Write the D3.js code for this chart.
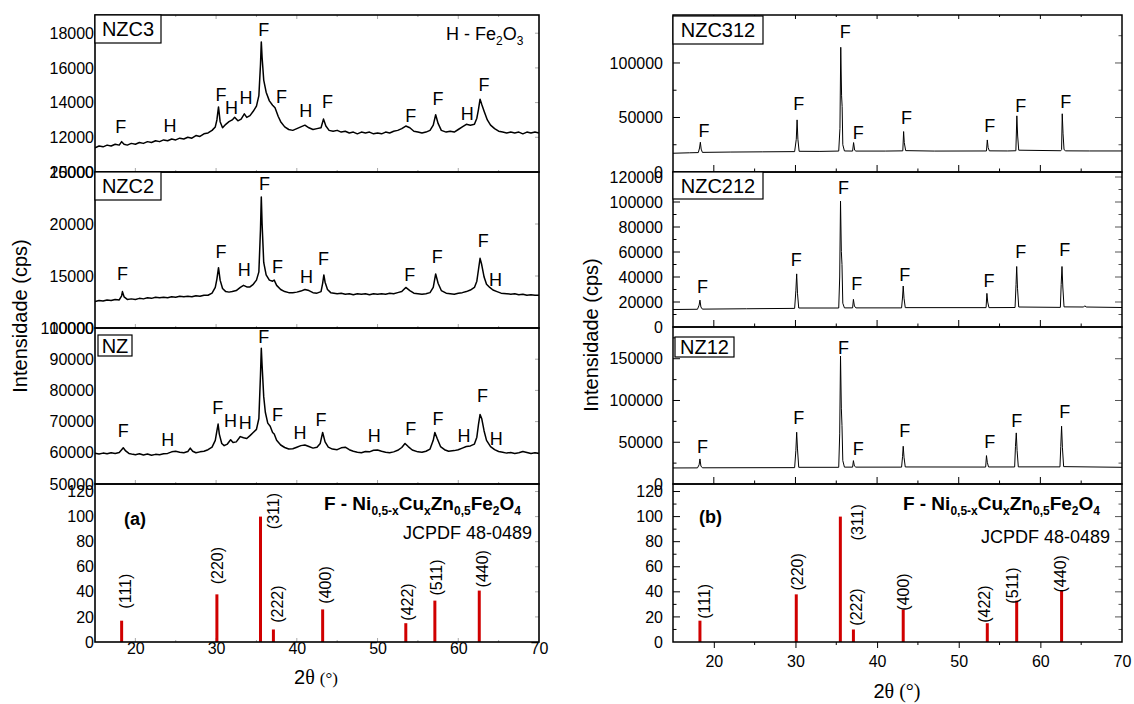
<!DOCTYPE html>
<html><head><meta charset="utf-8">
<script src="https://cdn.jsdelivr.net/npm/d3@7"></script>
<style>
body{margin:0;background:#fff}
text{font-family:"Liberation Sans",Arial,sans-serif;fill:#000}
</style>
</head><body>
<svg id="c" width="1134" height="704"></svg>
<script>
// ---------- DATA ----------
const nzc3 = [[15,11400],[15.5,11500],[16,11450],[16.5,11550],[17,11500],[17.5,11600],[18,11550],[18.3,11750],[18.6,11600],[19,11550],[19.5,11650],[20,11600],[20.5,11700],[21,11650],[21.5,11750],[22,11700],[22.5,11800],[23,11750],[23.5,11850],[24,11800],[24.5,11900],[25,11850],[25.5,11950],[26,11900],[26.5,12000],[27,11950],[27.5,12100],[28,12050],[28.5,12200],[29,12250],[29.5,12400],[29.9,12600],[30.1,13000],[30.3,13750],[30.5,12900],[30.8,12550],[31.2,12750],[31.6,12900],[32,13000],[32.3,13150],[32.7,12950],[33.1,13050],[33.5,13350],[33.8,13150],[34.2,13250],[34.6,13500],[35,13800],[35.3,14400],[35.5,16200],[35.6,17500],[35.7,16600],[35.9,15300],[36.2,14600],[36.6,14100],[37,13850],[37.3,13700],[37.7,13200],[38,12900],[38.5,12600],[39,12450],[39.5,12400],[40,12500],[40.5,12600],[41,12700],[41.5,12550],[42,12450],[42.5,12500],[43,12550],[43.3,13050],[43.6,12650],[44,12400],[44.5,12350],[45,12400],[45.5,12300],[46,12350],[46.5,12250],[47,12300],[47.5,12200],[48,12300],[48.5,12250],[49,12300],[49.5,12200],[50,12250],[50.5,12200],[51,12300],[51.5,12250],[52,12350],[52.5,12400],[53,12500],[53.5,12650],[54,12550],[54.5,12350],[55,12300],[55.5,12250],[56,12300],[56.5,12400],[56.9,12700],[57.2,13300],[57.5,12800],[57.9,12400],[58.5,12300],[59,12350],[59.5,12300],[60,12450],[60.5,12600],[61,12750],[61.5,12700],[62,12750],[62.3,13100],[62.5,13600],[62.7,14200],[62.9,13900],[63.2,13500],[63.6,13000],[64,12700],[64.5,12500],[65,12350],[65.5,12300],[66,12250],[66.5,12300],[67,12250],[67.5,12300],[68,12200],[68.5,12300],[69,12250],[69.5,12300],[70,12250]];

const nzc2 = [[15,12550],[15.5,12650],[16,12600],[16.5,12700],[17,12650],[17.5,12750],[18,12700],[18.3,13100],[18.4,13500],[18.6,13000],[19,12750],[19.5,12800],[20,12750],[20.5,12850],[21,12800],[21.5,12900],[22,12850],[22.5,12950],[23,12900],[23.5,12950],[24,12900],[24.5,13000],[25,12950],[25.5,13050],[26,13000],[26.5,13050],[27,13000],[27.5,13100],[28,13050],[28.5,13150],[29,13150],[29.5,13350],[29.9,13900],[30.1,14700],[30.3,15800],[30.5,14600],[30.8,13800],[31.2,13500],[31.6,13450],[32,13500],[32.5,13600],[33,13900],[33.4,14100],[33.8,13950],[34.2,13950],[34.6,14200],[35,14600],[35.3,15400],[35.5,19500],[35.6,22600],[35.7,20000],[35.9,16300],[36.2,15100],[36.6,14600],[37,14500],[37.2,14600],[37.5,14100],[38,13700],[38.5,13500],[39,13400],[39.5,13400],[40,13450],[40.5,13550],[41,13700],[41.5,13600],[42,13400],[42.5,13350],[43,13500],[43.2,14300],[43.35,15100],[43.5,14400],[43.8,13700],[44.2,13400],[45,13300],[45.5,13350],[46,13250],[46.5,13300],[47,13200],[47.5,13300],[48,13250],[48.5,13300],[49,13200],[49.5,13300],[50,13250],[50.5,13300],[51,13250],[51.5,13350],[52,13300],[52.5,13400],[53,13500],[53.5,13900],[54,13600],[54.5,13350],[55,13300],[55.5,13250],[56,13300],[56.5,13400],[56.9,13900],[57.2,15200],[57.5,14300],[57.9,13600],[58.5,13350],[59,13300],[59.5,13250],[60,13350],[60.5,13400],[61,13500],[61.5,13650],[62,13900],[62.3,14500],[62.5,15600],[62.7,16700],[62.9,16100],[63.2,14900],[63.5,14200],[63.9,13900],[64.3,13650],[64.8,13500],[65.3,13350],[66,13300],[66.5,13250],[67,13300],[67.5,13200],[68,13250],[68.5,13150],[69,13200],[69.5,13150],[70,13150]];

const nz = [[15,59900],[15.5,59600],[16,59900],[16.5,59700],[17,60000],[17.5,59800],[18,60100],[18.3,61000],[18.5,61600],[18.8,60600],[19.2,59800],[19.7,59500],[20,59400],[20.5,59700],[21,59300],[21.5,59600],[22,59200],[22.5,59500],[23,59400],[23.5,59700],[24,59800],[24.5,60300],[25,60500],[25.5,60200],[26,60000],[26.5,60400],[26.8,61500],[27.1,60500],[27.5,60000],[28,60300],[28.5,60500],[29,61000],[29.5,61800],[29.9,64000],[30.1,67000],[30.25,69200],[30.4,66000],[30.7,63000],[31,62300],[31.4,62800],[31.8,64200],[32.1,63300],[32.5,63500],[33,65200],[33.4,64800],[33.8,64600],[34.2,65500],[34.6,66500],[35,67500],[35.3,71000],[35.5,85000],[35.6,93500],[35.7,88000],[35.9,78000],[36.1,73000],[36.4,69500],[36.7,68500],[37,66500],[37.2,66000],[37.5,64000],[38,62500],[38.5,61700],[39,61200],[39.5,61300],[40,61800],[40.5,62300],[41,62500],[41.5,62000],[42,61500],[42.5,61800],[42.9,63000],[43.2,66500],[43.5,63500],[43.9,61800],[44.4,61200],[45,61000],[45.5,61600],[46,61800],[46.5,61000],[47,60500],[47.5,60200],[48,60000],[48.5,60400],[49,60300],[49.5,60800],[50,60900],[50.5,60500],[51,60200],[51.5,60000],[52,60300],[52.5,60800],[53,61700],[53.4,63000],[53.8,62000],[54.3,60900],[55,60300],[55.5,60200],[56,60500],[56.5,61200],[56.9,64000],[57.1,66500],[57.4,64500],[57.8,62000],[58.3,61000],[58.8,60500],[59.5,60700],[60,61000],[60.5,61500],[61,62000],[61.5,62200],[62,62800],[62.3,65000],[62.5,69000],[62.7,72300],[62.9,71000],[63.2,67000],[63.5,64000],[64,62000],[64.5,61000],[65,60400],[65.5,60200],[66,59900],[66.5,60100],[67,59800],[67.5,60000],[68,60400],[68.5,60100],[69,59800],[69.5,60000],[70,59800]];

const nzc312 = [[15,17200],[17,17600],[18.1,17800],[18.25,22000],[18.35,27300],[18.45,21000],[18.6,18000],[22,18300],[26,18500],[29.9,18700],[30.1,30000],[30.2,47800],[30.3,30000],[30.45,19000],[33,18900],[35.3,19200],[35.45,40000],[35.55,114400],[35.65,69900],[35.72,60000],[35.8,25000],[36,19300],[37.0,19200],[37.12,27000],[37.25,20000],[37.4,19200],[41,19200],[43.15,19400],[43.25,37100],[43.33,27000],[43.5,19600],[47,19200],[53.4,19300],[53.5,29400],[53.6,22500],[53.75,19400],[56,19300],[57.0,19500],[57.12,51500],[57.22,33000],[57.35,20000],[62.5,19500],[62.6,20500],[62.68,53400],[62.78,35000],[62.9,20500],[63.1,19400],[66,19300],[70,19300]];

const nzc212 = [[15,14000],[18.0,14200],[18.2,17500],[18.3,21500],[18.42,16000],[18.6,14300],[24,14600],[29.9,14900],[30.05,29000],[30.15,42500],[30.25,27000],[30.4,15200],[35.3,15200],[35.42,40000],[35.52,100700],[35.62,60500],[35.7,50000],[35.8,19000],[36,15300],[37.0,15300],[37.1,22100],[37.22,16800],[37.4,15300],[43.0,15300],[43.12,24000],[43.2,32800],[43.3,23000],[43.45,15500],[53.35,15500],[53.45,26900],[53.55,20000],[53.7,15500],[56.9,15600],[57.02,34000],[57.1,48400],[57.2,31000],[57.35,16000],[62.45,15700],[62.55,34000],[62.65,48400],[62.75,32000],[62.9,16100],[65.3,16000],[65.45,17000],[65.6,16000],[70,15600]];

const nz12 = [[15,19200],[18.0,19300],[18.2,23000],[18.3,30000],[18.42,21500],[18.6,19400],[29.9,19600],[30.05,40000],[30.15,62000],[30.25,42000],[30.4,20000],[35.3,20000],[35.42,60000],[35.52,153200],[35.62,90800],[35.7,70000],[35.8,28000],[36,20200],[37.0,20200],[37.1,28000],[37.22,21500],[37.4,20200],[43.0,20200],[43.12,33000],[43.2,45200],[43.3,32000],[43.45,20400],[53.3,20300],[53.4,34000],[53.5,26000],[53.65,20400],[56.85,20400],[56.95,45000],[57.05,61200],[57.15,40000],[57.3,20500],[62.4,20500],[62.5,45000],[62.6,69200],[62.7,44000],[62.85,20800],[70,20000]];

// peak annotations [letter, 2theta, intensity]
const nzc3Labels = [["F",18.2,12580],["H",24.3,12680],["F",30.6,14420],["H",31.9,13700],["H",33.7,14290],["F",35.9,18210],["F",38.1,14330],["H",41.1,13500],["F",43.8,14040],["F",54.1,13220],["F",57.5,14230],["H",61.1,13320],["F",63.2,15000]];
const nzc2Labels = [["F",18.4,15190],["F",30.6,17260],["H",33.5,15580],["F",36.0,23820],["F",37.6,15900],["H",41.2,14940],["F",43.3,16620],["F",54.0,15100],["F",57.4,16810],["F",63.1,18330],["H",64.6,14610]];
const nzLabels = [["F",18.5,67000],["H",24.0,64090],["F",30.2,74510],["H",31.8,70210],["H",33.6,69460],["F",35.9,97090],["F",37.6,72150],["H",40.4,66240],["F",43.0,70540],["H",49.6,65380],["F",54.1,67530],["F",57.5,70970],["H",60.7,65380],["F",63.0,78280],["H",64.7,64520]];
const nzc312Labels = [["F",18.8,38000],["F",30.4,62570],["F",36.1,128200],["F",37.7,35600],["F",43.6,49380],["F",53.8,42300],["F",57.6,60700],["F",63.1,63800]];
const nzc212Labels = [["F",18.6,31750],["F",30.1,53760],["F",35.9,111500],["F",37.5,34400],["F",43.4,41700],["F",53.7,36800],["F",57.6,60000],["F",63.0,61800]];
const nz12Labels = [["F",18.6,44700],["F",30.4,79200],["F",35.9,162800],["F",37.7,42000],["F",43.4,64000],["F",53.8,50800],["F",57.1,76000],["F",63.0,86000]];

// JCPDF 48-0489 reference pattern
const hkl = ["(111)","(220)","(311)","(222)","(400)","(422)","(511)","(440)"];
const hklPos = [18.3,30.1,35.5,37.1,43.2,53.5,57.1,62.6];
const hklInt = [17,38,100,10,26,15,33,41];
const hklLabelXa = [18.7,30.2,37.1,37.6,43.55,53.7,57.3,63.0];
const hklLabelYa = [26.6,46,90,15.3,30.6,17,37,43.5];
const hklLabelXb = [18.8,30.2,37.6,37.5,43.2,53.1,56.6,62.45];
const hklLabelYb = [18.5,41,81,13,25,15.3,30.6,39.5];

// tick labels
const xTicks = [20,30,40,50,60,70];
const xMinor = [20,25,30,35,40,45,50,55,60,65];
const ticksNZC3 = [10000,12000,14000,16000,18000];
const ticksNZC2 = [10000,15000,20000,25000];
const ticksNZ = [50000,60000,70000,80000,90000,100000];
const ticksRef = [0,20,40,60,80,100,120];
const minorRef = [10,30,50,70,90,110];
const ticksNZC312 = [0,50000,100000];
const minorNZC312 = [25000,75000,125000];
const ticksNZC212 = [0,20000,40000,60000,80000,100000,120000];
const minorNZC212 = [10000,30000,50000,70000,90000,110000];
const ticksNZ12 = [0,50000,100000,150000];
const minorNZ12 = [25000,75000,125000,175000];

// ---------- DRAW ----------
const svg = d3.select("#c");
const xL = d3.scaleLinear([15,70],[95,539]);
const xR = d3.scaleLinear([15,70],[673,1122]);
const defs = svg.append("defs");
let clipId = 0;

function drawPanel(o){
  const x = o.x;
  const [r0,r1] = x.range();
  const y = d3.scaleLinear(o.dom,[o.y1,o.y0]);
  const g = svg.append("g");
  const cid = "clip"+(clipId++);
  defs.append("clipPath").attr("id",cid).append("rect")
    .attr("x",r0).attr("y",o.y0).attr("width",r1-r0).attr("height",o.y1-o.y0);
  const tc = o.tickColor;
  if (o.xInTicks){
    g.selectAll(null).data(xMinor).join("line")
      .attr("x1",d=>x(d)).attr("x2",d=>x(d))
      .attr("y1",o.y1).attr("y2",d=>o.y1-(d%10===0?o.xInTicks:o.xInTicks/2))
      .attr("stroke",tc).attr("stroke-width",1);
  }
  if (o.xTopTicks){
    g.selectAll(null).data(xMinor).join("line")
      .attr("x1",d=>x(d)).attr("x2",d=>x(d))
      .attr("y1",o.y0).attr("y2",d=>o.y0+(d%10===0?o.xTopTicks:o.xTopTicks/2))
      .attr("stroke",tc).attr("stroke-width",1);
  }
  const maj = o.ticks, mnr = o.minor||[];
  const tl = o.yTick||0;
  if (tl>0){
    g.selectAll(null).data(maj.concat(mnr).filter(v=>y(v)>o.y0+1&&y(v)<o.y1-1)).join("line")
      .attr("x1",r0).attr("x2",d=>r0+(maj.includes(d)?tl:tl/2))
      .attr("y1",d=>y(d)).attr("y2",d=>y(d)).attr("stroke",tc);
  }
  if (o.rightTick){
    g.selectAll(null).data(maj.concat(mnr).filter(v=>y(v)>o.y0+1&&y(v)<o.y1-1)).join("line")
      .attr("x1",r1).attr("x2",d=>r1-(maj.includes(d)?o.rightTick:o.rightTick/2))
      .attr("y1",d=>y(d)).attr("y2",d=>y(d)).attr("stroke",o.rightColor||tc);
  }
  const ax = g.append("g").attr("transform",`translate(${r0},0)`)
    .call(d3.axisLeft(y).tickValues(maj).tickSize(0).tickPadding(o.pad).tickFormat(d3.format("d")));
  ax.select(".domain").remove();
  ax.selectAll("text").style("font-size","16px").attr("fill","#000").style("font-family",'"Liberation Sans",Arial,sans-serif');
  if (o.series){
    g.append("path").datum(o.series).attr("clip-path",`url(#${cid})`)
      .attr("d",d3.line().x(d=>x(d[0])).y(d=>y(d[1])))
      .attr("fill","none").attr("stroke","#000").attr("stroke-width",o.sw).attr("stroke-linejoin","round");
  }
  if (o.bars){
    g.selectAll(null).data(hklPos).join("line")
      .attr("x1",d=>x(d)).attr("x2",d=>x(d))
      .attr("y1",y(0)).attr("y2",(d,i)=>y(hklInt[i]))
      .attr("stroke","#d00000").attr("stroke-width",3);
    g.selectAll(null).data(hkl).join("text")
      .attr("transform",(d,i)=>`translate(${x(o.lx[i])},${y(o.ly[i])}) rotate(-90)`)
      .attr("dy","0.36em").style("font-size","16px").text(d=>d);
  }
  if (o.labels){
    g.selectAll(null).data(o.labels).join("text")
      .attr("x",d=>x(d[1])).attr("y",d=>y(d[2]))
      .attr("text-anchor","middle").attr("dominant-baseline","central")
      .style("font-size","18px").text(d=>d[0]);
  }
  g.append("rect").attr("x",r0).attr("y",o.y0).attr("width",r1-r0).attr("height",o.y1-o.y0)
    .attr("fill","none").attr("stroke","#000").attr("stroke-width",o.frameW||1.6);
  if (o.box){
    const b=o.box;
    g.append("rect").attr("x",b[1]).attr("y",b[2]).attr("width",b[3]).attr("height",b[4])
      .attr("fill","#fff").attr("stroke","#000").attr("stroke-width",1.2);
    g.append("text").attr("x",b[1]+b[3]/2).attr("y",b[2]+b[4]/2).attr("text-anchor","middle")
      .attr("dominant-baseline","central").style("font-size","20px").text(b[0]);
  }
  return {g,y};
}

// Left column
drawPanel({x:xL,y0:15,y1:172,dom:[10000,19050],ticks:ticksNZC3,pad:1,series:nzc3,sw:1.5,labels:nzc3Labels,
  box:["NZC3",95,15,66,28],tickColor:"#aaa",xInTicks:4,xTopTicks:4,rightTick:4});
drawPanel({x:xL,y0:172,y1:328,dom:[10000,25000],ticks:ticksNZC2,pad:1,series:nzc2,sw:1.5,labels:nzc2Labels,
  box:["NZC2",95,172,66,28],tickColor:"#aaa",xInTicks:4,rightTick:4});
drawPanel({x:xL,y0:328,y1:484,dom:[50000,100000],ticks:ticksNZ,pad:1,series:nz,sw:1.5,labels:nzLabels,
  box:["NZ",98,335,34,21],tickColor:"#aaa",xInTicks:4,rightTick:4});
drawPanel({x:xL,y0:484,y1:642,dom:[0,126],ticks:ticksRef,pad:1,bars:true,lx:hklLabelXa,ly:hklLabelYa,
  tickColor:"#aaa",xInTicks:4,rightTick:4});

// Right column
drawPanel({x:xR,y0:15,y1:172,dom:[0,144000],ticks:ticksNZC312,minor:minorNZC312,pad:10,series:nzc312,sw:1,labels:nzc312Labels,
  box:["NZC312",673,16,90,28],tickColor:"#000",yTick:7,xInTicks:7,xTopTicks:4,rightTick:7,rightColor:"#555",frameW:1.5});
drawPanel({x:xR,y0:172,y1:327,dom:[0,124000],ticks:ticksNZC212,minor:minorNZC212,pad:10,series:nzc212,sw:1,labels:nzc212Labels,
  box:["NZC212",673,172,90,27],tickColor:"#000",yTick:7,xInTicks:7,rightTick:7,rightColor:"#555",frameW:1.5});
drawPanel({x:xR,y0:327,y1:484,dom:[0,188000],ticks:ticksNZ12,minor:minorNZ12,pad:10,series:nz12,sw:1,labels:nz12Labels,
  box:["NZ12",675,337,59,20],tickColor:"#000",yTick:7,xInTicks:7,rightTick:7,rightColor:"#555",frameW:1.5});
drawPanel({x:xR,y0:484,y1:642,dom:[0,126],ticks:ticksRef,minor:minorRef,pad:10,bars:true,lx:hklLabelXb,ly:hklLabelYb,
  tickColor:"#000",yTick:7,rightTick:7,rightColor:"#555",frameW:1.5});

// Bottom x axes
const axL = svg.append("g").attr("transform","translate(0,642)")
  .call(d3.axisBottom(xL).tickValues(xTicks).tickSize(0).tickPadding(1));
axL.select(".domain").remove();
axL.selectAll("text").style("font-size","16px").attr("fill","#000").style("font-family",'"Liberation Sans",Arial,sans-serif');

const axR = svg.append("g").attr("transform","translate(0,642)")
  .call(d3.axisBottom(xR).tickValues(xTicks.filter(v=>v<70)).tickSize(6).tickPadding(8));
axR.select(".domain").remove();
axR.selectAll("line").attr("stroke","#000");
axR.selectAll("text").style("font-size","16px").attr("fill","#000").style("font-family",'"Liberation Sans",Arial,sans-serif');
svg.append("g").attr("transform","translate(0,642)")
  .call(d3.axisBottom(xR).tickValues([70]).tickSize(0).tickPadding(14)).call(a=>a.select(".domain").remove())
  .selectAll("text").style("font-size","16px").attr("fill","#000").style("font-family",'"Liberation Sans",Arial,sans-serif');
svg.append("g").selectAll(null).data(xMinor.filter(v=>v%10!==0)).join("line")
  .attr("x1",d=>xR(d)).attr("x2",d=>xR(d)).attr("y1",642).attr("y2",645).attr("stroke","#000");

// Axis titles
function yTitle(x,y){
  svg.append("text").attr("transform",`translate(${x},${y}) rotate(-90)`).attr("text-anchor","middle")
    .attr("dominant-baseline","central").style("font-size","20px").text("Intensidade (cps)");
}
yTitle(20,316); yTitle(591,335);
function xTitle(x,y,deg){
  const t = svg.append("text").attr("x",x).attr("y",y).attr("text-anchor","middle").style("font-size","20px");
  t.append("tspan").text("2");
  t.append("tspan").style("font-family",'"Liberation Serif","Times New Roman",serif').style("font-size","20px").text("θ ");
  t.append("tspan").style("font-family",'"Liberation Serif","Times New Roman",serif').style("font-size",deg+"px").text("(°)");
}
xTitle(316,684,17); xTitle(897,698,20);

// Annotations
function chem(x,y,parts,size,subSize,anchor,weight){
  const t = svg.append("text").attr("x",x).attr("y",y).attr("text-anchor",anchor)
    .style("font-size",size+"px").style("font-weight",weight);
  let low=false;
  parts.forEach(([s,isSub])=>{
    const ts = t.append("tspan").text(s);
    if (isSub && !low){ts.attr("dy",5).style("font-size",subSize+"px");low=true;}
    else if (isSub){ts.style("font-size",subSize+"px");}
    else if (!isSub && low){ts.attr("dy",-5);low=false;}
  });
}
chem(446,40,[["H - Fe",0],["2",1],["O",0],["3",1]],18,12,"start","normal");
const formula = [["F - Ni",0],["0,5-x",1],["Cu",0],["x",1],["Zn",0],["0,5",1],["Fe",0],["2",1],["O",0],["4",1]];
chem(521,510,formula,19,12,"end","bold");
chem(1100,510,formula,19,12,"end","bold");
svg.append("text").attr("x",532).attr("y",539).attr("text-anchor","end").style("font-size","18px").text("JCPDF 48-0489");
svg.append("text").attr("x",1110).attr("y",543).attr("text-anchor","end").style("font-size","18px").text("JCPDF 48-0489");
svg.append("text").attr("x",124).attr("y",525).style("font-size","18px").style("font-weight","bold").text("(a)");
svg.append("text").attr("x",699).attr("y",523).style("font-size","18px").style("font-weight","bold").text("(b)");
</script>
</body></html>
